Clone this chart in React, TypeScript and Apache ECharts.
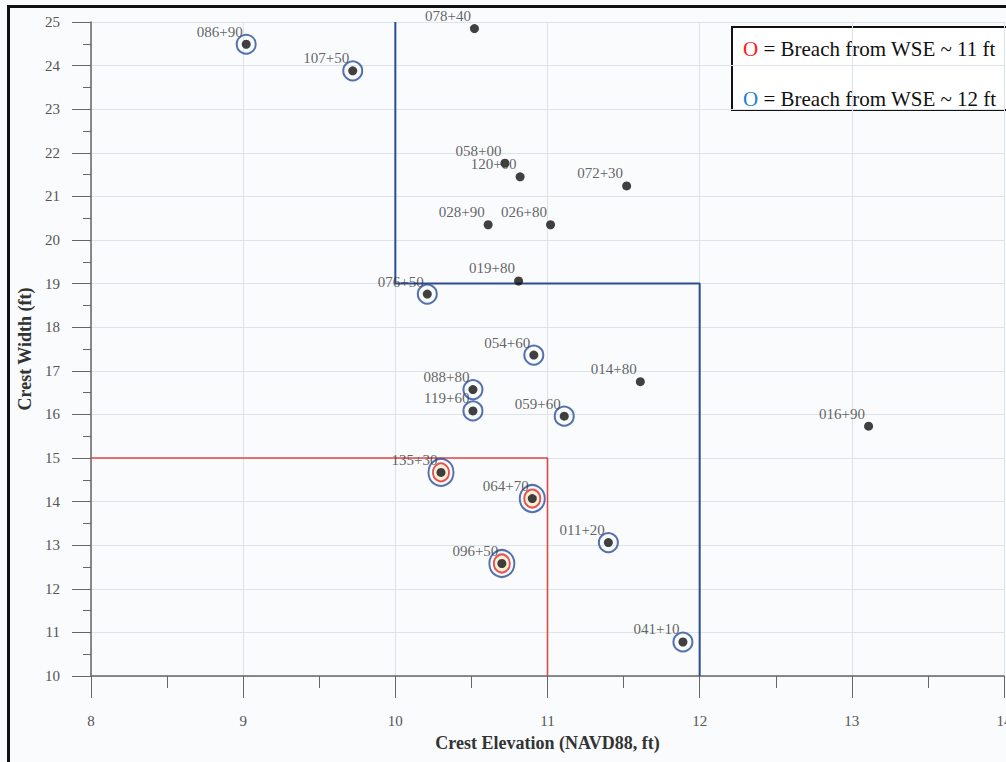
import React, { useEffect, useRef } from "react";
import * as echarts from "echarts";

// Levee stations: crest elevation (NAVD88, ft) vs crest width (ft)
const stations = [
  "078+40", "086+90", "107+50", "058+00", "120+00", "072+30", "028+90",
  "026+80", "019+80", "076+50", "054+60", "014+80", "088+80", "119+60",
  "059+60", "016+90", "135+30", "064+70", "096+50", "011+20", "041+10",
];
const crestElevation = [
  10.52, 9.02, 9.72, 10.72, 10.82, 11.52, 10.61,
  11.02, 10.81, 10.21, 10.91, 11.61, 10.51, 10.51,
  11.11, 13.11, 10.30, 10.90, 10.70, 11.40, 11.89,
];
const crestWidth = [
  24.85, 24.49, 23.88, 21.76, 21.45, 21.24, 20.35,
  20.35, 19.06, 18.76, 17.36, 16.75, 16.57, 16.08,
  15.96, 15.73, 14.67, 14.07, 12.58, 13.06, 10.78,
];
// Lowest water surface elevation (ft) that breaches the station; 0 = no breach
const breachWSE = [
  0, 12, 12, 0, 0, 0, 0,
  0, 0, 12, 12, 0, 12, 12,
  12, 0, 11, 11, 11, 12, 12,
];

// Threshold envelopes
const envelope12 = [[10, 25], [10, 19], [12, 19], [12, 10]];
const envelope11 = [[8, 15], [11, 15], [11, 10]];

const xTicks = { min: 8, max: 14, interval: 1 };
const yTicks = { min: 10, max: 25, interval: 1 };

const legendLines = [
  { mark: "O", color: "#ff1a1a", text: " = Breach from WSE ~ 11 ft" },
  { mark: "O", color: "#1a7fd6", text: " = Breach from WSE ~ 12 ft" },
];

const SERIF = "'Liberation Serif', 'Times New Roman', serif";

export default function App() {
  const ref = useRef<HTMLDivElement>(null);

  useEffect(() => {
    if (!ref.current) return;
    const chart = echarts.init(ref.current, null, { renderer: "svg" });

    const points = stations.map((name, i) => ({
      name,
      value: [crestElevation[i], crestWidth[i]],
    }));
    const at12 = points.filter((_, i) => breachWSE[i] === 12);
    const at11 = points.filter((_, i) => breachWSE[i] === 11);

    const axisText = { fontFamily: SERIF, fontSize: 15, color: "#555" };
    const titleText = { fontFamily: SERIF, fontSize: 18, fontWeight: "bold", color: "#333" };

    chart.setOption({
      animation: false,
      backgroundColor: "#f9fbfd",
      grid: { left: 91, top: 22, width: 913, height: 654, outerBoundsMode: "none" },
      xAxis: {
        type: "value",
        ...xTicks,
        name: "Crest Elevation (NAVD88, ft)",
        nameLocation: "middle",
        nameGap: 58,
        nameTextStyle: titleText,
        axisLine: { show: true, onZero: false, lineStyle: { color: "#666", width: 1.5 } },
        axisTick: { show: true, length: 22, lineStyle: { color: "#666" } },
        minorTick: { show: true, splitNumber: 2, length: 12, lineStyle: { color: "#666" } },
        axisLabel: { ...axisText, margin: 37 },
        splitLine: { show: true, lineStyle: { color: "#dde3ea" } },
      },
      yAxis: {
        type: "value",
        ...yTicks,
        name: "Crest Width (ft)",
        nameLocation: "middle",
        nameGap: 55,
        nameTextStyle: titleText,
        axisLine: { show: true, onZero: false, lineStyle: { color: "#666", width: 1.5 } },
        axisTick: { show: true, length: 19, lineStyle: { color: "#666" } },
        minorTick: { show: true, splitNumber: 2, length: 8, lineStyle: { color: "#666" } },
        axisLabel: { ...axisText, margin: 31 },
        splitLine: { show: true, lineStyle: { color: "#dde3ea" } },
      },
      series: [
        {
          type: "line",
          data: envelope12,
          symbol: "none",
          lineStyle: { color: "#2c4d8f", width: 2 },
          z: 2,
        },
        {
          type: "line",
          data: envelope11,
          symbol: "none",
          lineStyle: { color: "#e04848", width: 1.6 },
          z: 2,
        },
        {
          type: "scatter",
          data: at11,
          symbol: "circle",
          symbolSize: [25, 27],
          itemStyle: { color: "rgba(0,0,0,0)", borderColor: "#2a4f9a", borderWidth: 2 },
          z: 3,
        },
        {
          type: "scatter",
          data: at11,
          symbol: "circle",
          symbolSize: [16, 18],
          itemStyle: { color: "#f7ecd0", borderColor: "#e02a2a", borderWidth: 2 },
          z: 4,
        },
        {
          type: "scatter",
          data: at12,
          symbol: "circle",
          symbolSize: 19,
          itemStyle: { color: "rgba(0,0,0,0)", borderColor: "#2a4f9a", borderWidth: 2 },
          z: 3,
        },
        {
          type: "scatter",
          data: points,
          symbol: "circle",
          symbolSize: 9,
          itemStyle: { color: "#111" },
          label: {
            show: true,
            formatter: "{b}",
            position: [1, -8],
            align: "right",
            verticalAlign: "middle",
            fontFamily: SERIF,
            fontSize: 15,
            lineHeight: 12,
            color: "#3a3a3a",
          },
          z: 5,
        },
      ],
      graphic: [
        {
          type: "rect",
          shape: { x: 8.5, y: 6.5, width: 1010, height: 770 },
          style: { fill: "none", stroke: "#111", lineWidth: 3 },
          silent: true,
          z: 100,
        },
        {
          type: "group",
          z: 100,
          children: [
            {
              type: "rect",
              shape: { x: 732, y: 27, width: 300, height: 83 },
              style: { fill: "#ffffff", stroke: "#111", lineWidth: 2 },
            },
            ...legendLines.map((l, i) => ({
              type: "text",
              x: 743,
              y: 49 + i * 50,
              style: {
                text: `{m|${l.mark}}{t|${l.text}}`,
                verticalAlign: "middle",
                rich: {
                  m: { fontFamily: SERIF, fontSize: 21, fill: l.color },
                  t: { fontFamily: SERIF, fontSize: 21, fill: "#111" },
                },
              },
            })),
          ],
        },
      ],
    });

    return () => chart.dispose();
  }, []);

  return (
    <div
      ref={ref}
      style={{ position: "absolute", left: 0, top: 0, width: 1006, height: 762 }}
    />
  );
}
